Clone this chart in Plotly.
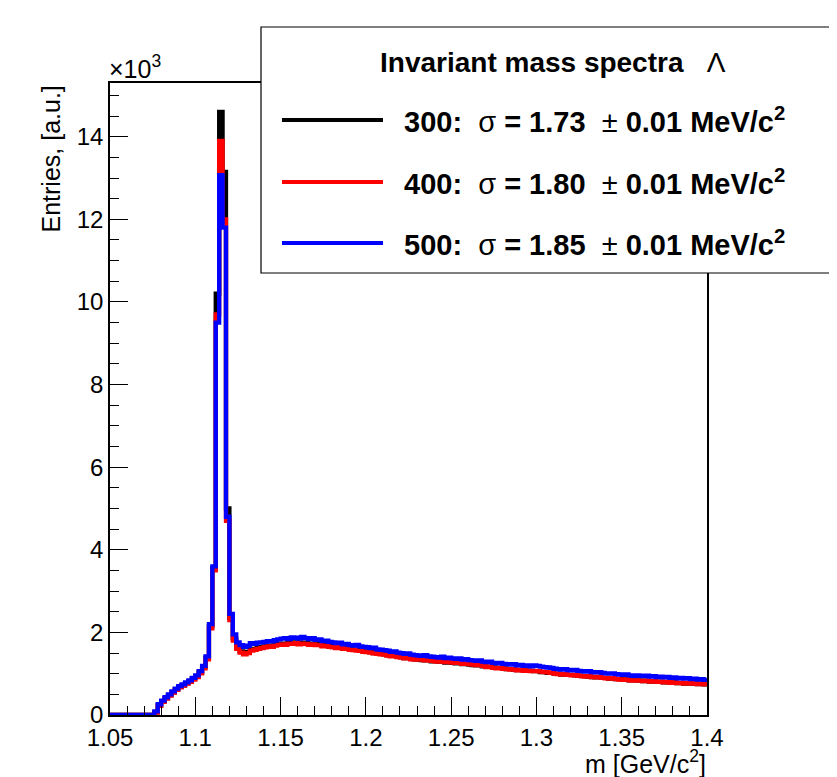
import plotly.graph_objects as go

# ---------------- data ----------------
BIN_LO = 1.05
BIN_W = 0.002          # 2 MeV bins, 175 bins from 1.05 to 1.40
N_BINS = 175

counts_300 = [
    0, 0, 0, 0, 0, 0, 0, 0, 0, 0,
    0, 0, 0, 70, 240, 330, 410, 480, 550, 620,
    680, 720, 770, 820, 880, 940, 1030, 1160, 1380, 2150,
    3550, 10200, 14600, 13150, 5000, 2350, 1850, 1640, 1540, 1500,
    1530, 1590, 1600, 1630, 1640, 1660, 1680, 1670, 1700, 1720,
    1730, 1720, 1750, 1740, 1760, 1730, 1750, 1740, 1720, 1730,
    1700, 1720, 1680, 1690, 1670, 1650, 1640, 1650, 1620, 1620,
    1600, 1580, 1580, 1560, 1540, 1530, 1520, 1500, 1490, 1480,
    1470, 1450, 1430, 1440, 1410, 1400, 1380, 1390, 1360, 1350,
    1340, 1330, 1320, 1330, 1300, 1300, 1290, 1300, 1270, 1280,
    1260, 1250, 1260, 1230, 1240, 1220, 1210, 1200, 1210, 1180,
    1170, 1170, 1150, 1140, 1140, 1130, 1110, 1110, 1100, 1090,
    1090, 1080, 1070, 1070, 1060, 1060, 1040, 1040, 1020, 1020,
    1000, 1000, 980, 990, 970, 970, 960, 950, 940, 940,
    930, 920, 910, 920, 900, 900, 880, 890, 870, 870,
    860, 860, 840, 840, 840, 830, 820, 830, 810, 820,
    800, 810, 790, 800, 780, 790, 770, 780, 760, 770,
    760, 770, 750, 760, 740,
]

counts_400 = [
    0, 0, 0, 0, 0, 0, 0, 0, 0, 0,
    0, 0, 0, 60, 220, 320, 400, 470, 540, 610,
    670, 710, 760, 800, 860, 920, 1010, 1130, 1350, 2100,
    3500, 9700, 13900, 12000, 4700, 2300, 1800, 1600, 1510, 1470,
    1500, 1560, 1580, 1600, 1620, 1640, 1660, 1650, 1680, 1700,
    1710, 1700, 1730, 1720, 1740, 1710, 1730, 1720, 1700, 1710,
    1690, 1700, 1660, 1680, 1650, 1640, 1620, 1640, 1600, 1610,
    1580, 1570, 1560, 1550, 1530, 1520, 1510, 1490, 1480, 1470,
    1460, 1440, 1420, 1430, 1400, 1390, 1370, 1380, 1350, 1340,
    1350, 1340, 1320, 1330, 1310, 1300, 1290, 1310, 1280, 1290,
    1270, 1260, 1270, 1240, 1250, 1230, 1220, 1210, 1220, 1190,
    1160, 1170, 1140, 1130, 1140, 1120, 1110, 1100, 1110, 1080,
    1090, 1070, 1080, 1060, 1070, 1060, 1050, 1040, 1030, 1020,
    1000, 990, 980, 990, 970, 960, 970, 950, 940, 930,
    940, 920, 910, 920, 900, 890, 880, 890, 870, 860,
    850, 860, 840, 830, 840, 830, 820, 830, 810, 820,
    800, 810, 790, 800, 780, 790, 770, 780, 760, 770,
    760, 770, 750, 760, 740,
]

counts_500 = [
    0, 0, 0, 0, 0, 0, 0, 0, 0, 0,
    0, 0, 0, 90, 260, 350, 430, 500, 570, 640,
    700, 740, 790, 840, 900, 960, 1060, 1190, 1420, 2200,
    3600, 9500, 13070, 11800, 4800, 2450, 1950, 1760, 1690, 1650,
    1680, 1740, 1720, 1750, 1760, 1770, 1790, 1780, 1810, 1830,
    1850, 1860, 1840, 1880, 1870, 1850, 1890, 1860, 1840, 1860,
    1820, 1830, 1790, 1800, 1770, 1760, 1740, 1750, 1710, 1720,
    1690, 1680, 1700, 1660, 1650, 1640, 1620, 1630, 1590, 1580,
    1570, 1560, 1530, 1540, 1510, 1500, 1480, 1490, 1460, 1450,
    1440, 1430, 1450, 1420, 1410, 1400, 1390, 1410, 1380, 1390,
    1370, 1360, 1370, 1340, 1350, 1330, 1320, 1310, 1320, 1290,
    1280, 1290, 1260, 1250, 1260, 1240, 1230, 1220, 1230, 1200,
    1210, 1190, 1200, 1180, 1200, 1190, 1170, 1160, 1150, 1140,
    1120, 1110, 1100, 1110, 1090, 1080, 1090, 1070, 1060, 1050,
    1060, 1040, 1030, 1040, 1020, 1010, 1000, 1010, 990, 980,
    970, 980, 960, 950, 960, 950, 940, 950, 930, 940,
    920, 930, 910, 920, 900, 910, 890, 900, 880, 890,
    870, 880, 860, 870, 850,
]

series_names = ["300", "400", "500"]
series_colors = ["#000000", "#ff0000", "#0000ff"]
series_sigma = ["1.73", "1.80", "1.85"]
series_sigma_err = ["0.01", "0.01", "0.01"]

x_tickvals = [1.05, 1.1, 1.15, 1.2, 1.25, 1.3, 1.35, 1.4]
x_ticktext = ["1.05", "1.1", "1.15", "1.2", "1.25", "1.3", "1.35", "1.4"]
y_tickvals = [0, 2000, 4000, 6000, 8000, 10000, 12000, 14000]
y_ticktext = ["0", "2", "4", "6", "8", "10", "12", "14"]

# ---------------- geometry (screen pixels) ----------------
SCR_W, SCR_H = 837, 777
OFF = 8                      # default page body margin
PL, PR, PT, PB = 110, 707, 83, 715


def px(x):
    return (x - PL) / (PR - PL)


def py(y):
    return (PB - y) / (PB - PT)


edges = [round(BIN_LO + i * BIN_W, 6) for i in range(N_BINS + 1)]

fig = go.Figure()
for name, col, vals in zip(series_names, series_colors,
                           [counts_300, counts_400, counts_500]):
    assert len(vals) == N_BINS
    fig.add_trace(go.Scatter(
        x=edges, y=list(vals) + [vals[-1]],
        mode="lines", line=dict(color=col, width=4.3, shape="hv"),
        name=name, showlegend=False, hoverinfo="skip",
    ))

FONT = "Liberation Sans, Arial, Helvetica, sans-serif"

fig.update_layout(
    width=SCR_W - OFF, height=SCR_H - OFF,
    margin=dict(l=PL - OFF, r=SCR_W - PR, t=PT - OFF, b=SCR_H - PB, pad=0),
    paper_bgcolor="white", plot_bgcolor="white",
    font=dict(family=FONT, color="black", size=24),
    showlegend=False,
    xaxis=dict(
        range=[1.05, 1.4], showgrid=False, zeroline=False,
        showline=True, linecolor="black", linewidth=1.5, mirror=True,
        ticks="inside", ticklen=18, tickwidth=1.2, tickcolor="black",
        tickmode="array", tickvals=x_tickvals, ticktext=x_ticktext,
        tickfont=dict(size=24, family=FONT),
        minor=dict(ticks="inside", ticklen=9, tickwidth=1.2, tickcolor="black",
                   tickmode="linear", tick0=1.05, dtick=0.01, showgrid=False),
    ),
    yaxis=dict(
        range=[0, 15300], showgrid=False, zeroline=False,
        showline=True, linecolor="black", linewidth=1.5, mirror=True,
        ticks="inside", ticklen=18, tickwidth=1.2, tickcolor="black",
        tickmode="array", tickvals=y_tickvals, ticktext=y_ticktext,
        tickfont=dict(size=24, family=FONT),
        minor=dict(ticks="inside", ticklen=9, tickwidth=1.2, tickcolor="black",
                   tickmode="linear", tick0=0, dtick=500, showgrid=False),
    ),
)

annotations = [
    dict(x=px(107), y=py(67), xref="paper", yref="paper", xanchor="left",
         yanchor="middle", text="×10<sup>3</sup>", showarrow=False,
         font=dict(size=25, family=FONT)),
    dict(x=px(708), y=py(762), xref="paper", yref="paper", xanchor="right",
         yanchor="middle", text="m [GeV/c<sup>2</sup>]", showarrow=False,
         font=dict(size=25, family=FONT)),
    dict(x=px(50), y=py(84), xref="paper", yref="paper", xanchor="center",
         yanchor="top", text="Entries, [a.u.]", textangle=-90, showarrow=False,
         font=dict(size=25, family=FONT)),
]

shapes = []
# legend box
shapes.append(dict(type="rect", xref="paper", yref="paper",
                   x0=px(261), x1=px(833), y0=py(273), y1=py(27),
                   fillcolor="white", line=dict(color="black", width=1.2),
                   layer="above"))
annotations.append(dict(
    x=px(553), y=py(62), xref="paper", yref="paper", xanchor="center",
    yanchor="middle", showarrow=False,
    text="<b>Invariant mass spectra</b>&nbsp;&nbsp;&nbsp;Λ",
    font=dict(size=28, family=FONT)))

entry_y = [120, 182, 243]
for name, col, sig, err, yy in zip(series_names, series_colors, series_sigma,
                                   series_sigma_err, entry_y):
    shapes.append(dict(type="line", xref="paper", yref="paper",
                       x0=px(282), x1=px(383), y0=py(yy), y1=py(yy),
                       line=dict(color=col, width=4), layer="above"))
    txt = (f"<b>{name}:</b>&nbsp;&nbsp;σ&nbsp;<b>=&nbsp;{sig}</b>"
           f"&nbsp;&nbsp;±&nbsp;<b>{err}&nbsp;MeV/c<sup>2</sup></b>")
    annotations.append(dict(
        x=px(402), y=py(yy), xref="paper", yref="paper", xanchor="left",
        yanchor="middle", showarrow=False, text=txt,
        font=dict(size=29, family=FONT)))

fig.update_layout(annotations=annotations, shapes=shapes)
fig.write_html("out.html")
